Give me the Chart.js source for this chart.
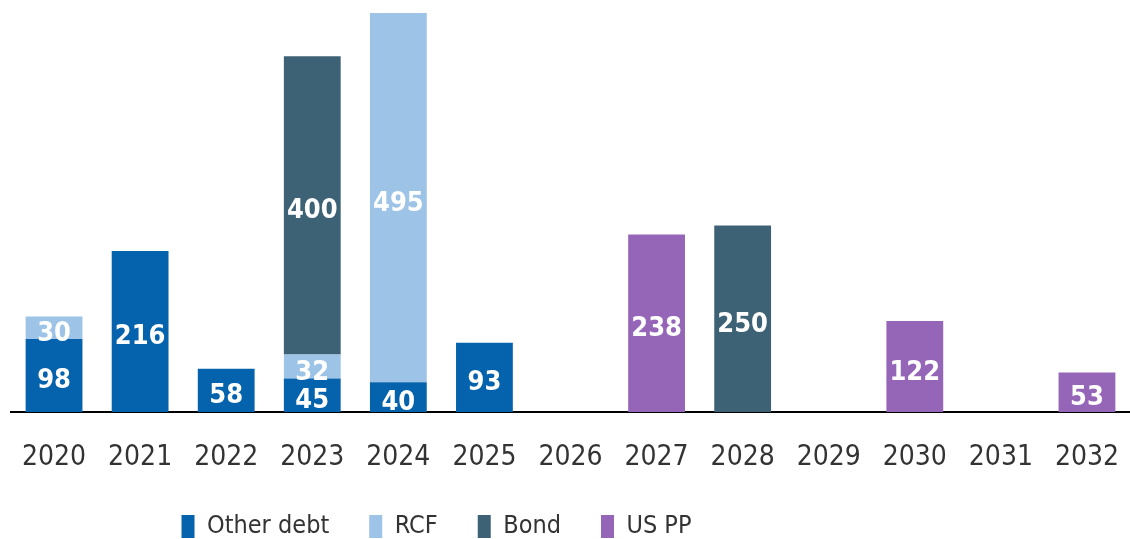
<!DOCTYPE html>
<html>
<head>
<meta charset="utf-8">
<script src="https://cdn.jsdelivr.net/npm/chart.js@4/dist/chart.umd.min.js"></script>
<style>
  body { margin: 0; background: #fff; }
  #wrap { width: 1130px; height: 539px; }
</style>
</head>
<body>
<div id="wrap"><canvas id="chart" width="1130" height="539"></canvas></div>
<script>
// years along the x-axis
const years = ['2020', '2021', '2022', '2023', '2024', '2025', '2026', '2027', '2028', '2029', '2030', '2031', '2032'];
// maturities per type (null = nothing that year)
const otherDebt = [98, 216, 58, 45, 40, 93, null, null, null, null, null, null, null];
const rcf = [30, null, null, 32, 495, null, null, null, null, null, null, null, null];
const bond = [null, null, null, 400, null, null, null, null, 250, null, null, null, null];
const usPP = [null, null, null, null, null, null, null, 238, null, null, 122, null, 53];

const FONT = "'DejaVu Sans Condensed', 'Liberation Sans Narrow', 'Open Sans', sans-serif";

// white numbers in the middle of each segment
const barLabels = {
  id: 'barLabels',
  afterDatasetsDraw(chart) {
    const ctx = chart.ctx;
    ctx.save();
    ctx.fillStyle = '#fff';
    ctx.font = 'bold 27px ' + FONT;
    ctx.textAlign = 'center';
    ctx.textBaseline = 'middle';
    chart.data.datasets.forEach((ds, i) => {
      const meta = chart.getDatasetMeta(i);
      meta.data.forEach((bar, j) => {
        const v = ds.data[j];
        if (v == null) return;
        const c = bar.getCenterPoint();
        ctx.fillText(v, c.x, c.y + 6);
      });
    });
    ctx.restore();
  }
};

// legend takes no room of its own; it sits under the year labels, a bit left of centre
const legendPlace = {
  id: 'legendPlace',
  beforeInit(chart) {
    const fit = chart.legend.fit;
    chart.legend.fit = function () {
      fit.call(this);
      this.height = 0;
    };
  },
  afterLayout(chart) {
    const lg = chart.legend;
    lg.left -= 134;
    lg.right -= 134;
    lg.top = 474;
    lg.bottom = 539;
  }
};

new Chart(document.getElementById('chart'), {
  type: 'bar',
  data: {
    labels: years,
    datasets: [
      { label: 'Other debt', data: otherDebt, backgroundColor: '#0563ad' },
      { label: 'RCF', data: rcf, backgroundColor: '#9dc3e6' },
      { label: 'Bond', data: bond, backgroundColor: '#3e6275' },
      { label: 'US PP', data: usPP, backgroundColor: '#9565b8' }
    ]
  },
  options: {
    responsive: false,
    animation: false,
    layout: { padding: { left: 11, right: 0, top: 13, bottom: 0 } },
    datasets: { bar: { barPercentage: 0.66, categoryPercentage: 1 } },
    scales: {
      x: {
        stacked: true,
        grid: { display: false },
        border: { display: true, color: '#000', width: 2 },
        ticks: { color: '#333', padding: 21, font: { family: FONT, size: 28 } },
        afterFit(scale) {
          scale.paddingLeft = 0;
          scale.paddingRight = 0;
          scale.height = 127;
        }
      },
      y: {
        stacked: true,
        display: false,
        min: 0,
        max: 535
      }
    },
    plugins: {
      tooltip: { enabled: false },
      legend: {
        position: 'bottom',
        labels: {
          boxWidth: 13,
          boxHeight: 23,
          padding: 40,
          color: '#333',
          font: { family: FONT, size: 25 }
        }
      }
    }
  },
  plugins: [barLabels, legendPlace]
});
</script>
</body>
</html>
